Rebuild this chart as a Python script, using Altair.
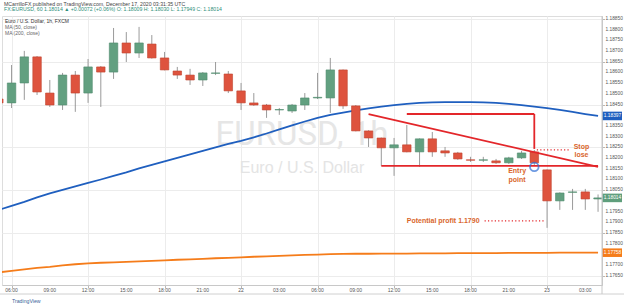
import altair as alt
import pandas as pd

# ---------------- data ----------------
hours = list(range(5, 53))
opens = [1.18476, 1.18458, 1.18551, 1.18673, 1.18504, 1.18448, 1.18588, 1.18504, 1.18626, 1.18602,
         1.18738, 1.18691, 1.18733, 1.18668, 1.18607, 1.18588, 1.18565, 1.18596, 1.18593, 1.18514,
         1.18458, 1.18448, 1.18425, 1.18420, 1.18448, 1.18481, 1.18481, 1.18612, 1.18444, 1.18327,
         1.18294, 1.18248, 1.18262, 1.18229, 1.18290, 1.18234, 1.18224, 1.18192, 1.18190, 1.18187,
         1.18178, 1.18201, 1.18229, 1.18145, 1.18000, 1.18040, 1.18042, 1.18009]
highs = [1.18481, 1.18635, 1.18701, 1.18677, 1.18565, 1.18598, 1.18607, 1.18663, 1.18630, 1.18808,
         1.18789, 1.18813, 1.18775, 1.18696, 1.18626, 1.18617, 1.18602, 1.18649, 1.18607, 1.18551,
         1.18504, 1.18453, 1.18434, 1.18453, 1.18504, 1.18598, 1.18668, 1.18614, 1.18448, 1.18330,
         1.18296, 1.18294, 1.18355, 1.18292, 1.18322, 1.18252, 1.18229, 1.18206, 1.18206, 1.18196,
         1.18206, 1.18234, 1.18238, 1.18147, 1.18040, 1.18056, 1.18056, 1.18030]
lows = [1.18448, 1.18434, 1.18472, 1.18495, 1.18439, 1.18425, 1.18416, 1.18458, 1.18439, 1.18570,
        1.18649, 1.18668, 1.18665, 1.18610, 1.18570, 1.18542, 1.18537, 1.18588, 1.18504, 1.18425,
        1.18444, 1.18388, 1.18402, 1.18411, 1.18425, 1.18476, 1.18411, 1.18430, 1.18325, 1.18252,
        1.18164, 1.18117, 1.18227, 1.18159, 1.18206, 1.18206, 1.18192, 1.18182, 1.18182, 1.18173,
        1.18173, 1.18196, 1.18168, 1.17874, 1.17958, 1.17958, 1.17958, 1.17949]
closes = [1.18458, 1.18551, 1.18673, 1.18509, 1.18448, 1.18588, 1.18504, 1.18626, 1.18602, 1.18738,
          1.18691, 1.18738, 1.18668, 1.18612, 1.18588, 1.18565, 1.18598, 1.18598, 1.18514, 1.18458,
          1.18448, 1.18425, 1.18427, 1.18448, 1.18481, 1.18484, 1.18612, 1.18444, 1.18327, 1.18294,
          1.18248, 1.18262, 1.18229, 1.18290, 1.18229, 1.18224, 1.18196, 1.18190, 1.18192, 1.18178,
          1.18201, 1.18224, 1.18178, 1.18000, 1.18037, 1.18042, 1.18009, 1.18014]
ma50 = [1.17958, 1.17977, 1.17995, 1.18016, 1.18035, 1.18051, 1.18068, 1.18084, 1.18100, 1.18117,
        1.18133, 1.18152, 1.18168, 1.18185, 1.18201, 1.18217, 1.18234, 1.18250, 1.18266, 1.18280,
        1.18297, 1.18315, 1.18334, 1.18353, 1.18371, 1.18388, 1.18402, 1.18413, 1.18423, 1.18432,
        1.18441, 1.18448, 1.18453, 1.18458, 1.18460, 1.18462, 1.18462, 1.18462, 1.18460, 1.18458,
        1.18453, 1.18448, 1.18441, 1.18434, 1.18425, 1.18416, 1.18406, 1.18397]
ma200 = [1.17666, 1.17673, 1.17680, 1.17687, 1.17692, 1.17699, 1.17704, 1.17708, 1.17711, 1.17713,
         1.17715, 1.17717, 1.17720, 1.17722, 1.17725, 1.17727, 1.17729, 1.17732, 1.17734, 1.17736,
         1.17739, 1.17741, 1.17743, 1.17745, 1.17748, 1.17749, 1.17751, 1.17752, 1.17753, 1.17753,
         1.17754, 1.17754, 1.17754, 1.17755, 1.17755, 1.17755, 1.17756, 1.17756, 1.17756, 1.17756,
         1.17757, 1.17757, 1.17757, 1.17757, 1.17758, 1.17758, 1.17758, 1.17758]

x_ticks = [6, 9, 12, 15, 18, 21, 24, 27, 30, 33, 36, 39, 42, 45, 48, 51]
x_labels = ["06:00", "09:00", "12:00", "15:00", "18:00", "21:00", "22", "03:00",
            "06:00", "09:00", "12:00", "15:00", "18:00", "21:00", "23", "03:00"]
y_ticks = [1.17650, 1.17700, 1.17750, 1.17800, 1.17850, 1.17900, 1.17950, 1.18000, 1.18050,
           1.18100, 1.18150, 1.18200, 1.18250, 1.18300, 1.18350, 1.18400, 1.18450, 1.18500,
           1.18550, 1.18600, 1.18650, 1.18700, 1.18750, 1.18800, 1.18850]

# trend-line annotations (hour, price)
seg_h1 = [34.0, 35.0, 37.0, 47.0]
seg_h2 = [52.0, 52.0, 47.0, 47.0]
seg_p1 = [1.18406, 1.18164, 1.18406, 1.18406]
seg_p2 = [1.18159, 1.18164, 1.18406, 1.18243]

dot_h1 = [47.2, 43.1]
dot_h2 = [49.8, 47.8]
dot_p = [1.18238, 1.17907]

note_text = ["Stop", "lose", "Entry", "point", "Potential profit 1.1790"]
note_h = [50.7, 50.7, 45.65, 45.65, 37.0]
note_p = [1.18254, 1.18215, 1.18138, 1.18099, 1.17907]
note_align = ["center", "center", "center", "center", "left"]

entry_h = [47.0]
entry_p = [1.18159]

# ---------------- frames ----------------
candles = pd.DataFrame(dict(h=hours, open=opens, high=highs, low=lows, close=closes))
candles["dir"] = ["up" if c >= o else "down" for o, c in zip(opens, closes)]
ma_df = pd.DataFrame(dict(h=hours, ma50=ma50, ma200=ma200))
segs = pd.DataFrame(dict(h1=seg_h1, h2=seg_h2, p1=seg_p1, p2=seg_p2))
dots = pd.DataFrame(dict(h1=dot_h1, h2=dot_h2, p=dot_p))
notes = pd.DataFrame(dict(h=note_h, p=note_p, t=note_text, a=note_align))
entry = pd.DataFrame(dict(h=entry_h, p=entry_p))
last = pd.DataFrame(dict(
    v=[ma50[-1], closes[-1], ma200[-1]],
    col=["#1f5fbf", "#5f9e7c", "#f57c1a"],
))
last["top"] = last["v"] + 0.0002
last["bot"] = last["v"] - 0.0002
last["lab"] = [f"{v:.5f}" for v in last["v"]]

# tick labels that the coloured value tags cover are left out
ylab = pd.DataFrame({"v": [t for t in y_ticks
                           if not any(abs(t - v) < 0.00025 for v in last["v"])]})
ylab["lab"] = [f"{v:.5f}" for v in ylab["v"]]
xlab = pd.DataFrame({"h": x_ticks, "lab": x_labels})

FONT = "Liberation Sans"
GREEN, RED = "#62a080", "#de533e"
NOTE = "#d9662c"

xs = alt.Scale(domain=[5.25, 52.31], nice=False, zero=False, padding=0)
ys = alt.Scale(domain=[1.17607, 1.18864], nice=False, zero=False, padding=0)

xaxis = alt.Axis(values=x_ticks, title=None, grid=True, gridColor="#ececec", labels=False,
                 tickSize=3, tickColor="#b8b8b8", domainColor="#c8c8c8")
yaxis = alt.Axis(orient="right", values=y_ticks, title=None, grid=True, gridColor="#ececec",
                 labels=False, tickSize=2.5, tickColor="#b8b8b8", domainColor="#c8c8c8")

# watermark
wm1 = alt.Chart(pd.DataFrame({"t": ["EURUSD, 1h"]})).mark_text(
    font="Roboto", fontSize=33, color="#e6e6e6", align="center", baseline="middle"
).encode(x=alt.value(300), y=alt.value(119), text="t:N")
wm2 = alt.Chart(pd.DataFrame({"t": ["Euro / U.S. Dollar"]})).mark_text(
    font=FONT, fontSize=16, color="#e4e4e4", align="center", baseline="middle"
).encode(x=alt.value(300), y=alt.value(152), text="t:N")

wicks = alt.Chart(candles).mark_rule(color="#808080", strokeWidth=0.8, clip=True).encode(
    x=alt.X("h:Q", scale=xs, axis=xaxis),
    y=alt.Y("low:Q", scale=ys, axis=yaxis),
    y2="high:Q",
)
bodies = alt.Chart(candles).mark_bar(size=8.5, clip=True, strokeWidth=0.6).encode(
    x=alt.X("h:Q", scale=xs),
    y=alt.Y("open:Q", scale=ys),
    y2="close:Q",
    color=alt.Color("dir:N", scale=alt.Scale(domain=["up", "down"], range=[GREEN, RED]), legend=None),
    stroke=alt.Stroke("dir:N", scale=alt.Scale(domain=["up", "down"], range=["#4f8a6b", "#c0432f"]),
                      legend=None),
)
l50 = alt.Chart(ma_df).mark_line(color="#1f5fbf", strokeWidth=1.8, clip=True).encode(
    x=alt.X("h:Q", scale=xs), y=alt.Y("ma50:Q", scale=ys))
l200 = alt.Chart(ma_df).mark_line(color="#f57c1a", strokeWidth=1.8, clip=True).encode(
    x=alt.X("h:Q", scale=xs), y=alt.Y("ma200:Q", scale=ys))

red = alt.Chart(segs).mark_rule(color="#e3262a", strokeWidth=1.8).encode(
    x=alt.X("h1:Q", scale=xs), x2="h2:Q", y=alt.Y("p1:Q", scale=ys), y2="p2:Q")
dotted = alt.Chart(dots).mark_rule(color="#e3262a", strokeWidth=1.2, strokeDash=[1.2, 2.2]).encode(
    x=alt.X("h1:Q", scale=xs), x2="h2:Q", y=alt.Y("p:Q", scale=ys))
circle = alt.Chart(entry).mark_point(shape="circle", size=75, filled=False, color="#2f6fd6",
                                     strokeWidth=1.8).encode(
    x=alt.X("h:Q", scale=xs), y=alt.Y("p:Q", scale=ys))
notes_c = alt.Chart(notes[notes.a == "center"]).mark_text(
    font=FONT, fontSize=7, fontWeight="bold", color=NOTE, align="center", baseline="middle"
).encode(x=alt.X("h:Q", scale=xs), y=alt.Y("p:Q", scale=ys), text="t:N")
notes_l = alt.Chart(notes[notes.a == "left"]).mark_text(
    font=FONT, fontSize=7, fontWeight="bold", color=NOTE, align="left", baseline="middle"
).encode(x=alt.X("h:Q", scale=xs), y=alt.Y("p:Q", scale=ys), text="t:N")

# axis labels
ytext = alt.Chart(ylab).mark_text(font=FONT, fontSize=4.8, color="#555555", align="left",
                                  baseline="middle").encode(
    x=alt.value(603.5), y=alt.Y("v:Q", scale=ys), text="lab:N")
xtext = alt.Chart(xlab).mark_text(font=FONT, fontSize=5, color="#555555", align="center",
                                  baseline="middle").encode(
    x=alt.X("h:Q", scale=xs), y=alt.value(274), text="lab:N")

# value tags on the price axis
boxes = alt.Chart(last).mark_rect().encode(
    x=alt.value(600.5), x2=alt.value(620), y=alt.Y("top:Q", scale=ys), y2="bot:Q",
    color=alt.Color("col:N", scale=None))
box_txt = alt.Chart(last).mark_text(font=FONT, fontSize=4.8, color="white", align="center",
                                    baseline="middle").encode(
    x=alt.value(610.5), y=alt.Y("v:Q", scale=ys), text="lab:N")

# frame pieces outside the plot
bottom_line = alt.Chart(pd.DataFrame({"a": [0]})).mark_rule(color="#d0d0d0", strokeWidth=1).encode(
    x=alt.value(-2), x2=alt.value(622), y=alt.value(278))
right_line = alt.Chart(pd.DataFrame({"a": [0]})).mark_rule(color="#c8c8c8", strokeWidth=1).encode(
    x=alt.value(600), y=alt.value(0), y2=alt.value(278))


def label(txt, x, y, size=5, color="#555555", weight="normal"):
    return alt.Chart(pd.DataFrame({"t": [txt]})).mark_text(
        font=FONT, fontSize=size, color=color, align="left", baseline="middle", fontWeight=weight
    ).encode(x=alt.value(x), y=alt.value(y), text="t:N")


hdr1 = label("MCarrilloFX published on TradingView.com, December 17, 2020 03:31:35 UTC", 2, -12, 5.2, "#444444")
hdr2 = label("FX:EURUSD, 60  1.18014 \u25b2 +0.00072 (+0.06%) O: 1.18009 H: 1.18030 L: 1.17949 C: 1.18014",
             2, -7, 5.2, "#2f8f7a")
leg1 = label("Euro / U.S. Dollar, 1h, FXCM", 3, 5, 5, "#333333")
leg2 = label("MA (50, close)", 3, 11, 5, "#666666")
leg3 = label("MA (200, close)", 3, 17, 5, "#666666")
tv = label("TradingView", 10, 285, 5.2, "#3a5f9a")

chart = alt.layer(
    wm1, wm2, wicks, l50, l200, bodies, red, dotted, circle, notes_c, notes_l,
    ytext, xtext, boxes, box_txt, bottom_line, right_line, hdr1, hdr2, leg1, leg2, leg3, tv,
).properties(
    width=600, height=269,
    padding={"left": 2, "top": 16, "right": 22, "bottom": 22},
    autosize=alt.AutoSizeParams(type="none"),
).configure_view(stroke="#d6d6d6").configure(background="white")

chart.save("out.html", embed_options={"renderer": "svg", "actions": False})
